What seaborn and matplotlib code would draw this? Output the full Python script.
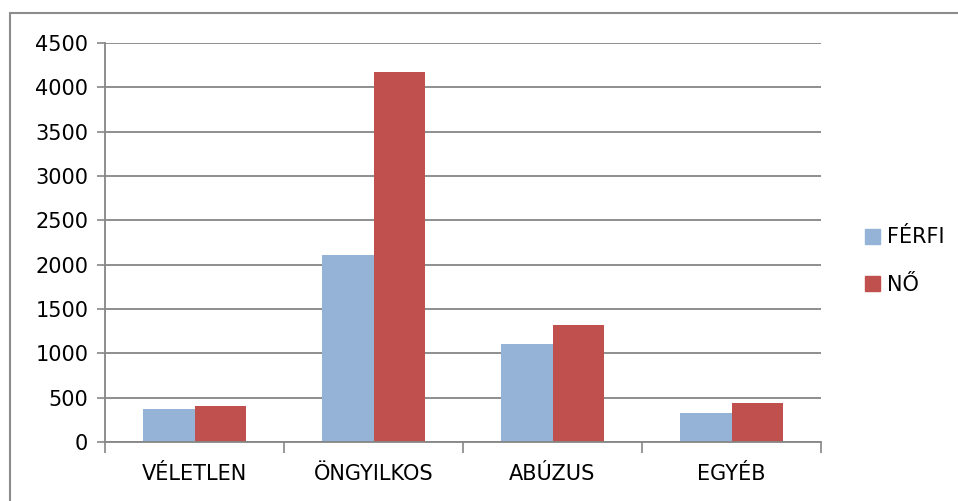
import matplotlib
matplotlib.use("Agg")
import matplotlib.pyplot as plt
import pandas as pd
import seaborn as sns
from matplotlib.lines import Line2D

# Data
categories = ['VÉLETLEN', 'ÖNGYILKOS', 'ABÚZUS', 'EGYÉB']
ferfi = [376, 2110, 1105, 331]
no = [407, 4170, 1320, 444]
series = ['FÉRFI', 'NŐ']
colors = ['#95B3D7', '#C0504D']

df = pd.DataFrame({
    'kat': categories * 2,
    'nem': ['FÉRFI'] * 4 + ['NŐ'] * 4,
    'ertek': ferfi + no,
})

sns.set_style('white')
plt.rcParams['font.family'] = ['DejaVu Sans']
plt.rcParams['text.color'] = 'black'

W, H = 958, 501
fig = plt.figure(figsize=(W / 100, H / 100), dpi=100)
ax = fig.add_axes([105 / W, 1 - 442 / H, (821 - 105) / W, (442 - 43) / H])

sns.barplot(data=df, x='kat', y='ertek', hue='nem', hue_order=series,
            palette=colors, width=0.571, saturation=1, linewidth=0,
            ax=ax, legend=False)

grid_c = '#868686'
ax.set_ylim(0, 4500)
ax.set_xlim(-0.5, 3.5)
ax.set_yticks(range(0, 4501, 500))
ax.yaxis.grid(True, color=grid_c, linewidth=1.3)
ax.set_axisbelow(True)
for s in ['top', 'right']:
    ax.spines[s].set_visible(False)
for s in ['left', 'bottom']:
    ax.spines[s].set_color(grid_c)
    ax.spines[s].set_linewidth(1.3)
ax.set_xlabel('')
ax.set_ylabel('')
ax.tick_params(axis='y', left=True, length=6, width=1.2, color=grid_c,
               labelsize=15, labelcolor='black', pad=6)
ax.tick_params(axis='x', bottom=False, labelsize=15, labelcolor='black', pad=12)
# category boundary ticks on the x axis
ax.set_xticks([-0.5, 0.5, 1.5, 2.5, 3.5], minor=True)
ax.tick_params(axis='x', which='minor', bottom=True, length=8, width=1.2,
               color=grid_c)

handles = [plt.Rectangle((0, 0), 1, 1, color=c) for c in colors]
fig.legend(handles, series, loc='center left', bbox_to_anchor=(846 / W, 1 - 261 / H),
           frameon=False, fontsize=15, handlelength=0.72, handleheight=0.72,
           handletextpad=0.35, labelspacing=1.3)

# outer chart border (top and left visible)
fig.add_artist(Line2D([10 / W, 1], [1 - 13 / H, 1 - 13 / H], color='#8c8c8c',
                      linewidth=1.5, transform=fig.transFigure))
fig.add_artist(Line2D([10 / W, 10 / W], [0, 1 - 13 / H], color='#8c8c8c',
                      linewidth=1.5, transform=fig.transFigure))

fig.savefig('out.png', dpi=100)
